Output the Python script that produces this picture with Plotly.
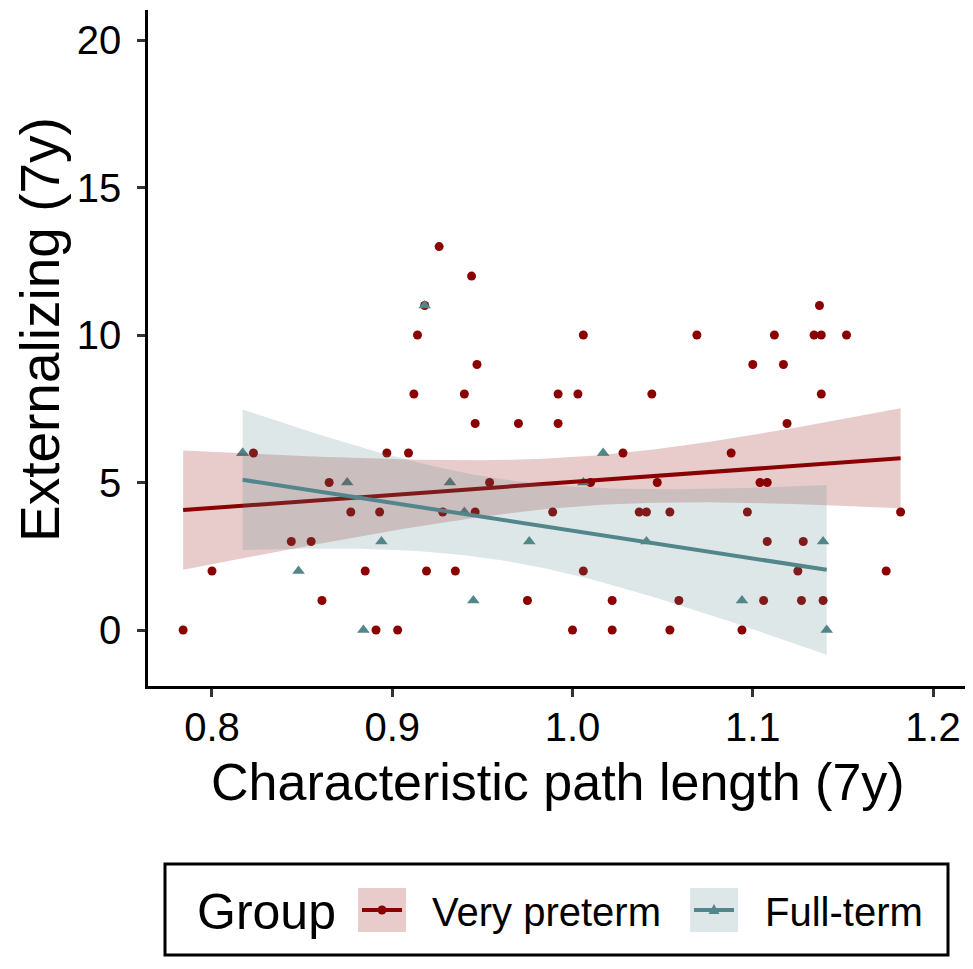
import math
import numpy as np
import plotly.graph_objects as go

# ---------------- data ----------------
vp_x = [0.784, 0.800, 0.823, 0.844, 0.855, 0.861, 0.865, 0.877, 0.893, 0.885,
        0.891, 0.903, 0.897, 0.909, 0.912, 0.914, 0.918, 0.919, 0.926, 0.928,
        0.935, 0.944, 0.940, 0.947, 0.946, 0.946, 0.954, 0.970, 0.975, 0.989,
        0.992, 0.992, 1.000, 1.003, 1.006, 1.006, 1.010, 1.022, 1.022, 1.028,
        1.037, 1.041, 1.044, 1.047, 1.054, 1.054, 1.059, 1.069, 1.088, 1.094,
        1.097, 1.100, 1.104, 1.108, 1.106, 1.108, 1.112, 1.117, 1.119, 1.125,
        1.127, 1.128, 1.134, 1.138, 1.137, 1.138, 1.139, 1.152, 1.174, 1.182]
vp_y = [0, 2, 6, 3, 3, 1, 5, 4, 4, 2,
        0, 0, 6, 6, 8, 10, 11, 2, 13, 4,
        2, 12, 8, 9, 7, 4, 5, 7, 1, 4,
        8, 7, 0, 8, 10, 2, 5, 1, 0, 6,
        4, 4, 8, 5, 4, 0, 1, 10, 6, 0,
        4, 9, 5, 5, 1, 3, 10, 9, 7, 2,
        1, 3, 10, 10, 11, 8, 1, 10, 2, 4]

# (0.817, 6) appears twice: two overlapping triangles (consistent with the drawn fit)
ft_x = [0.817, 0.817, 0.875, 0.894, 0.848, 0.884, 0.918, 1.017, 0.932,
        1.006, 0.940, 0.976, 1.041, 0.945, 1.139, 1.094, 1.141]
ft_y = [6, 6, 5, 3, 2, 0, 11, 6, 5,
        5, 4, 3, 3, 1, 3, 1, 0]

group_names = ["Very preterm", "Full-term"]
group_colors = ["#8B0000", "#53868B"]
band_colors = ["rgba(139,0,0,0.2)", "rgba(83,134,139,0.2)"]

x_ticks = [0.8, 0.9, 1.0, 1.1, 1.2]
x_tick_text = ["0.8", "0.9", "1.0", "1.1", "1.2"]
y_ticks = [0, 5, 10, 15, 20]

x_title = "Characteristic path length (7y)"
y_title = "Externalizing (7y)"
legend_title = "Group"

FONT = "Liberation Sans, Arial, Helvetica, sans-serif"


# ---------------- linear fit with 95% CI (like geom_smooth(method='lm')) ----------------
def t_pdf(t, df):
    c = math.exp(math.lgamma((df + 1) / 2) - math.lgamma(df / 2)) / math.sqrt(df * math.pi)
    return c * (1 + t * t / df) ** (-(df + 1) / 2)


def t_cdf(t, df, n=2000):
    h = t / n
    s = t_pdf(0, df) + t_pdf(t, df)
    for i in range(1, n):
        s += (4 if i % 2 else 2) * t_pdf(i * h, df)
    return 0.5 + s * h / 3


def t_ppf(p, df):
    lo, hi = 0.0, 20.0
    for _ in range(60):
        mid = (lo + hi) / 2
        if t_cdf(mid, df) < p:
            lo = mid
        else:
            hi = mid
    return (lo + hi) / 2


def lm_band(x, y, npts=80):
    x = np.asarray(x, float)
    y = np.asarray(y, float)
    n = len(x)
    xm, ym = x.mean(), y.mean()
    sxx = ((x - xm) ** 2).sum()
    b = ((x - xm) * (y - ym)).sum() / sxx
    a = ym - b * xm
    s = math.sqrt(((y - (a + b * x)) ** 2).sum() / (n - 2))
    g = np.linspace(x.min(), x.max(), npts)
    fit = a + b * g
    se = s * np.sqrt(1 / n + (g - xm) ** 2 / sxx)
    tq = t_ppf(0.975, n - 2)
    return g, fit, fit - tq * se, fit + tq * se


fig = go.Figure()

# points first (ggplot draws smooth layer above them)
fig.add_trace(go.Scatter(x=vp_x, y=vp_y, mode="markers", showlegend=False,
                         marker=dict(symbol="circle", size=9, color=group_colors[0])))
fig.add_trace(go.Scatter(x=ft_x, y=ft_y, mode="markers", showlegend=False,
                         marker=dict(symbol="triangle-up", size=11, color=group_colors[1])))

for gx, gy, col, band in [(vp_x, vp_y, group_colors[0], band_colors[0]),
                          (ft_x, ft_y, group_colors[1], band_colors[1])]:
    g, fit, lo, hi = lm_band(gx, gy)
    fig.add_trace(go.Scatter(x=list(g) + list(g[::-1]), y=list(hi) + list(lo[::-1]),
                             fill="toself", fillcolor=band, line=dict(width=0),
                             mode="lines", hoverinfo="skip", showlegend=False))
    fig.add_trace(go.Scatter(x=g, y=fit, mode="lines", showlegend=False,
                             line=dict(color=col, width=4)))

# ---------------- layout ----------------
# the page body has an 8px margin; the figure is sized so that the
# plot panel lands where it is in the reference (x 148..970, y 10..686)
OFF = 8
W, H = 965, 961
L, R, T, B = 148 - OFF, 3, 10 - OFF, 283
PW, PH = W - L - R, H - T - B


def px(xpage):
    return (xpage - OFF - L) / PW


def py(ypage):
    return (H - B - (ypage - OFF)) / PH


fig.update_layout(
    width=W, height=H,
    margin=dict(l=L, r=R, t=T, b=B),
    paper_bgcolor="white", plot_bgcolor="white",
    font=dict(family=FONT, color="black"),
    showlegend=False,
    xaxis=dict(range=[0.7645, 1.2205], tickvals=x_ticks, ticktext=x_tick_text,
               showgrid=False, zeroline=False, showline=True, linecolor="black",
               linewidth=2.5, ticks="outside", ticklen=8, tickwidth=2.5,
               tickcolor="#333333", tickfont=dict(size=40, color="black"),
               ticklabelstandoff=-4),
    yaxis=dict(range=[-1.898, 21.02], tickvals=y_ticks,
               showgrid=False, zeroline=False, showline=True, linecolor="black",
               linewidth=2.5, ticks="outside", ticklen=8, tickwidth=2.5,
               tickcolor="#333333", tickfont=dict(size=40, color="black"),
               ticklabelstandoff=8),
)

shapes = []
annotations = []

# axis titles as annotations, placed as in the reference
annotations.append(dict(text=x_title, xref="paper", yref="paper",
                        x=px(558), y=py(782), xanchor="center", yanchor="middle",
                        showarrow=False, font=dict(size=52, color="black")))
annotations.append(dict(text=y_title, xref="paper", yref="paper", textangle=-90,
                        x=px(40), y=py(330), xanchor="center", yanchor="middle",
                        showarrow=False, font=dict(size=55, color="black")))

# ---------------- manual legend (ggplot-style, bottom) ----------------
shapes.append(dict(type="rect", xref="paper", yref="paper",
                   x0=px(165), x1=px(948), y0=py(955), y1=py(864),
                   line=dict(color="black", width=3), fillcolor="rgba(0,0,0,0)"))
annotations.append(dict(text=legend_title, xref="paper", yref="paper",
                        x=px(195), y=py(912), xanchor="left", yanchor="middle",
                        showarrow=False, font=dict(size=50, color="black")))
key_left = [358, 690]
text_left = [430, 763]
kc = 910  # key vertical centre
for i in range(2):
    k0, k1 = key_left[i], key_left[i] + 48
    shapes.append(dict(type="rect", xref="paper", yref="paper",
                       x0=px(k0), x1=px(k1), y0=py(kc + 22), y1=py(kc - 22),
                       line=dict(width=0), fillcolor=band_colors[i]))
    shapes.append(dict(type="line", xref="paper", yref="paper",
                       x0=px(k0 + 4), x1=px(k1 - 4), y0=py(kc), y1=py(kc),
                       line=dict(color=group_colors[i], width=4)))
    cx = (k0 + k1) / 2
    if i == 0:
        shapes.append(dict(type="circle", xref="paper", yref="paper",
                           x0=px(cx - 4.5), x1=px(cx + 4.5), y0=py(kc + 4.5), y1=py(kc - 4.5),
                           line=dict(width=0), fillcolor=group_colors[i]))
    else:
        path = "M{:.5f},{:.5f} L{:.5f},{:.5f} L{:.5f},{:.5f} Z".format(
            px(cx - 5.5), py(kc + 4), px(cx + 5.5), py(kc + 4), px(cx), py(kc - 6))
        shapes.append(dict(type="path", xref="paper", yref="paper", path=path,
                           line=dict(width=0), fillcolor=group_colors[i]))
    annotations.append(dict(text=group_names[i], xref="paper", yref="paper",
                            x=px(text_left[i]), y=py(kc + 2), xanchor="left", yanchor="middle",
                            showarrow=False, font=dict(size=40, color="black")))

fig.update_layout(shapes=shapes, annotations=annotations)

fig.write_html("out.html")
